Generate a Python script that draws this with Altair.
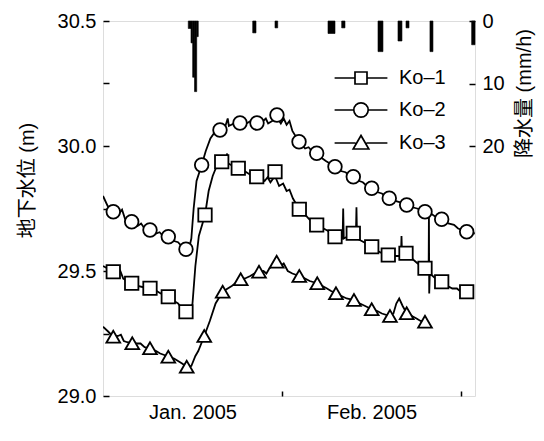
import altair as alt
import pandas as pd

# ---------------- data (days from 1 Jan 2005) ----------------
ko1_day = [0, 0.8, 1.78, 2.6, 3.0, 3.5, 4.97, 6.0, 7.0, 8.14, 9.3, 10.0, 10.6, 11.31, 12.3, 13.0, 13.7, 14.37,
           15.0, 15.5, 16.0, 16.6, 17.67, 18.3, 19.0, 19.7, 20.56, 21.3, 21.5, 21.7, 22.5, 23.43, 24.5, 25.5,
           26.62, 27.5, 28.0, 28.5, 29.0, 29.79, 30.5, 31.2, 31.8, 32.3, 32.9, 34.0, 35.2, 36.0, 37.01, 38.2,
           39.0, 40.18, 41.0, 41.5, 41.6, 41.7, 42.5, 43.35, 43.8, 43.9, 44.0, 44.8, 45.6, 46.54, 47.6, 48.4,
           49.41, 50.5, 51.6, 51.7, 51.8, 52.48, 53.5, 54.5, 55.77, 56.4, 56.45, 56.5, 56.6, 57.6, 58.66, 59.7,
           60.5, 61.3, 61.8, 62.99]
ko1_val = [29.52, 29.51, 29.497, 29.49, 29.50, 29.47, 29.451, 29.44, 29.435, 29.431, 29.42, 29.41, 29.405, 29.397,
           29.38, 29.37, 29.35, 29.337, 29.33, 29.37, 29.52, 29.64, 29.724, 29.82, 29.88, 29.92, 29.937, 29.94,
           29.97, 29.93, 29.92, 29.911, 29.90, 29.885, 29.877, 29.87, 29.86, 29.875, 29.855, 29.88, 29.84, 29.85,
           29.82, 29.825, 29.79, 29.747, 29.72, 29.70, 29.684, 29.67, 29.66, 29.637, 29.63, 29.63, 29.75, 29.63,
           29.64, 29.645, 29.64, 29.755, 29.63, 29.62, 29.61, 29.597, 29.58, 29.57, 29.564, 29.56, 29.56, 29.64,
           29.56, 29.565, 29.55, 29.53, 29.511, 29.50, 29.74, 29.41, 29.49, 29.47, 29.457, 29.44, 29.43, 29.43,
           29.42, 29.417]

ko2_day = [0, 0.8, 1.78, 2.8, 3.3, 3.8, 4.97, 6.0, 6.6, 7.2, 8.14, 9.2, 9.8, 10.4, 11.31, 12.3, 13.0, 13.6, 14.37,
           14.9, 15.3, 15.7, 16.2, 17.09, 17.8, 18.6, 19.2, 20.26, 21.2, 21.6, 21.8, 22.7, 23.73, 24.8, 25.6, 26.67,
           27.5, 28.2, 28.6, 29.3, 30.13, 30.8, 31.3, 31.8, 32.3, 32.8, 33.95, 35.0, 35.6, 36.2, 37.01, 38.0, 38.6,
           39.3, 40.18, 41.2, 42.0, 42.6, 43.35, 44.4, 45.0, 45.7, 46.54, 47.6, 48.3, 48.9, 49.58, 50.6, 51.5,
           52.6, 53.6, 54.4, 55.1, 55.77, 56.8, 57.7, 58.66, 59.8, 60.8, 61.5, 62.99, 64.4]
ko2_val = [29.80, 29.76, 29.737, 29.73, 29.745, 29.71, 29.697, 29.68, 29.69, 29.67, 29.664, 29.65, 29.655, 29.64,
           29.637, 29.62, 29.615, 29.60, 29.587, 29.59, 29.63, 29.75, 29.86, 29.924, 29.98, 30.03, 30.05, 30.064,
           30.08, 30.11, 30.08, 30.09, 30.092, 30.09, 30.10, 30.092, 30.095, 30.11, 30.09, 30.10, 30.115, 30.09,
           30.11, 30.085, 30.10, 30.06, 30.017, 29.99, 29.995, 29.98, 29.971, 29.95, 29.94, 29.93, 29.917, 29.90,
           29.895, 29.885, 29.877, 29.86, 29.855, 29.84, 29.831, 29.815, 29.81, 29.80, 29.791, 29.78, 29.775,
           29.764, 29.755, 29.75, 29.745, 29.737, 29.73, 29.715, 29.707, 29.69, 29.685, 29.67, 29.657, 29.65]

ko3_day = [0, 0.8, 1.78, 2.6, 3.1, 3.6, 4.2, 5.07, 6.0, 6.5, 7.2, 8.14, 9.2, 9.9, 10.5, 11.31, 12.3, 13.0, 13.7,
           14.5, 15.3, 16.0, 16.5, 17.54, 18.5, 19.5, 20.73, 21.6, 22.3, 23.85, 24.6, 25.5, 26.2, 27.02, 27.8,
           28.3, 28.8, 30.08, 30.8, 31.3, 32.0, 32.8, 34.0, 35.0, 35.8, 37.11, 38.0, 38.8, 39.5, 40.35, 41.3,
           42.2, 43.47, 44.5, 45.4, 46.54, 47.5, 48.3, 49.7, 50.3, 50.8, 51.3, 51.9, 52.6, 53.5, 54.3, 55.0,
           55.77, 56.3]
ko3_val = [29.277, 29.26, 29.237, 29.24, 29.245, 29.22, 29.215, 29.211, 29.21, 29.21, 29.195, 29.191, 29.18, 29.17,
           29.165, 29.157, 29.15, 29.14, 29.13, 29.117, 29.12, 29.16, 29.18, 29.24, 29.30, 29.37, 29.417, 29.43,
           29.44, 29.467, 29.47, 29.48, 29.49, 29.497, 29.50, 29.49, 29.51, 29.537, 29.52, 29.53, 29.50, 29.49,
           29.48, 29.47, 29.46, 29.451, 29.44, 29.43, 29.42, 29.411, 29.40, 29.39, 29.384, 29.37, 29.36, 29.347,
           29.34, 29.33, 29.32, 29.33, 29.37, 29.39, 29.36, 29.331, 29.32, 29.31, 29.30, 29.297, 29.29]

# marker positions
m1_day = [1.78, 4.97, 8.14, 11.31, 14.37, 17.67, 20.56, 23.43, 26.62, 29.79, 34.0, 37.01, 40.18, 43.35, 46.54,
          49.41, 52.48, 55.77, 58.66, 62.99]
m1_val = [29.497, 29.451, 29.431, 29.397, 29.337, 29.724, 29.937, 29.911, 29.877, 29.897, 29.747, 29.684, 29.637,
          29.651, 29.597, 29.564, 29.571, 29.511, 29.457, 29.417]
m2_day = [1.78, 4.97, 8.14, 11.31, 14.37, 17.09, 20.26, 23.73, 26.67, 30.13, 33.95, 37.01, 40.18, 43.35, 46.54,
          49.58, 52.6, 55.77, 58.66, 62.99]
m2_val = [29.737, 29.697, 29.664, 29.637, 29.587, 29.924, 30.064, 30.092, 30.092, 30.124, 30.017, 29.971, 29.917,
          29.877, 29.831, 29.791, 29.764, 29.737, 29.707, 29.657]
m3_day = [1.78, 5.07, 8.14, 11.31, 14.5, 17.54, 20.73, 23.85, 27.02, 30.08, 34.0, 37.11, 40.35, 43.47, 46.54,
          49.7, 52.6, 55.77]
m3_val = [29.237, 29.211, 29.191, 29.157, 29.117, 29.24, 29.417, 29.467, 29.497, 29.537, 29.48, 29.451, 29.411,
          29.384, 29.347, 29.32, 29.331, 29.297]

# rainfall (mm/h)
rain_start = [14.77, 15.24, 15.53, 15.85, 16.23, 25.93, 29.79, 38.97, 41.34, 47.63, 51.09, 52.48, 56.63, 63.85]
rain_end = [15.24, 15.53, 15.85, 16.23, 16.50, 26.50, 30.26, 40.18, 41.91, 48.49, 51.78, 53.00, 57.15, 64.43]
rain_mm = [1.2, 3.5, 9.0, 11.3, 2.5, 1.9, 1.1, 2.0, 1.1, 4.9, 3.2, 1.1, 4.9, 3.8]

series_names = ["Ko\u20131", "Ko\u20132", "Ko\u20133"]
level_ticks = [29.0, 29.25, 29.5, 29.75, 30.0, 30.25, 30.5]
rain_ticks = [0, 10, 20]
month_ticks = [31, 62]

# ---------------- tables ----------------
lines_df = pd.concat([
    pd.DataFrame({"series": series_names[0], "day": ko1_day, "level": ko1_val}),
    pd.DataFrame({"series": series_names[1], "day": ko2_day, "level": ko2_val}),
    pd.DataFrame({"series": series_names[2], "day": ko3_day, "level": ko3_val}),
])
marks_df = pd.concat([
    pd.DataFrame({"series": series_names[0], "day": m1_day, "level": m1_val}),
    pd.DataFrame({"series": series_names[1], "day": m2_day, "level": m2_val}),
    pd.DataFrame({"series": series_names[2], "day": m3_day, "level": m3_val}),
])
rain_df = pd.DataFrame({"start": rain_start, "end": rain_end, "mm": rain_mm})
rain_df["base"] = 0.0

FONT = "Liberation Sans"
TFONT = "Liberation Sans, Noto Sans CJK JP"

xscale = alt.Scale(domain=[0, 64.43], nice=False, zero=False)
yscale = alt.Scale(domain=[29.0, 30.5], nice=False, zero=False)

x_axis = alt.Axis(values=month_ticks, title=None, domain=False, grid=False, tickSize=5, offset=-5,
                  tickColor="black", tickWidth=1.5, labelFont=FONT, labelFontSize=20, labelColor="black",
                  labelPadding=6, labelOffset=-89.5, labelFlush=False,
                  labelExpr="datum.value == 31 ? 'Jan. 2005' : 'Feb. 2005'")
y_axis = alt.Axis(values=level_ticks, title="地下水位 (m)", domain=False, grid=False,
                  labelExpr="datum.value % 0.5 == 0 ? format(datum.value, '.1f') : ''",
                  tickSize=6, offset=-6, tickColor="black", tickWidth=1.5, labelFont=FONT, labelFontSize=20,
                  labelColor="black", labelPadding=7, titleFont=TFONT, titleFontSize=20, titleFontWeight="normal",
                  titleColor="black", titleAngle=270, titleAlign="center", titleBaseline="middle",
                  titleX=-82, titleY=159, labelOverlap=False)

x_enc = alt.X("day:Q", scale=xscale, axis=x_axis)
y_enc = alt.Y("level:Q", scale=yscale, axis=y_axis)

lines = alt.Chart(lines_df).mark_line(color="black", strokeWidth=1.8, clip=True).encode(
    x=x_enc, y=y_enc, detail="series:N")

points = alt.Chart(marks_df).mark_point(filled=True, fill="white", stroke="black", strokeWidth=1.8,
                                         opacity=1).encode(
    x="day:Q", y="level:Q",
    shape=alt.Shape("series:N", scale=alt.Scale(domain=series_names,
                                                 range=["square", "circle", "triangle-up"]), legend=None),
    size=alt.Size("series:N", scale=alt.Scale(domain=series_names, range=[180, 190, 270]), legend=None),
)

legend_paths = [
    "M-4.4,0H-1M1,0H4.4M-1,-1H1V1H-1Z",
    "M-4.4,0H-1.2M1.2,0H4.4M-1.2,0A1.2,1.2,0,1,1,1.2,0A1.2,1.2,0,1,1,-1.2,0Z",
    "M-4.4,0H-0.9M0.9,0H4.4M0,-1.25L1.3,1H-1.3Z",
]
legend_layer = alt.Chart(marks_df).transform_filter("datum.day < -100").mark_point(
    filled=False, color="black", strokeWidth=1.7, opacity=1).encode(
    x="day:Q", y="level:Q",
    shape=alt.Shape("series:N", scale=alt.Scale(domain=series_names, range=legend_paths),
                    legend=alt.Legend(title=None, orient="none", legendX=248, legendY=47, padding=0,
                                      symbolSize=144, symbolStrokeColor="black", symbolFillColor="white",
                                      symbolStrokeWidth=1.7, symbolOpacity=1, labelFont=FONT,
                                      labelFontSize=20, labelColor="black", labelOffset=28, rowPadding=11)),
)

main = alt.layer(lines, points, legend_layer).resolve_scale(shape="independent", size="independent")

rain = alt.Chart(rain_df).mark_rect(color="black", stroke="black", strokeWidth=0.6).encode(
    x=alt.X("start:Q", scale=xscale),
    x2="end:Q",
    y=alt.Y("base:Q", scale=alt.Scale(domain=[0, 60], reverse=True, nice=False, zero=False),
            axis=alt.Axis(orient="right", values=rain_ticks, title="降水量 (mm/h)", domain=False, grid=False,
                          tickSize=6, offset=-6, tickColor="black", tickWidth=1.5, labelFont=FONT,
                          labelFontSize=20, labelColor="black", labelPadding=7, titleFont=TFONT,
                          titleFontSize=20, titleFontWeight="normal", titleColor="black", titleAngle=270,
                          titleAlign="center", titleBaseline="middle", titleX=55, titleY=72)),
    y2="mm:Q",
)

chart = alt.layer(main, rain).resolve_scale(y="independent").properties(
    width=372, height=375,
    autosize=alt.AutoSizeParams(type="none"),
    padding={"left": 95, "top": 13, "right": 61, "bottom": 37},
).configure_view(stroke="black", strokeWidth=2).configure(background="white")

chart.save("out.html", embed_options={"renderer": "svg", "actions": False})
